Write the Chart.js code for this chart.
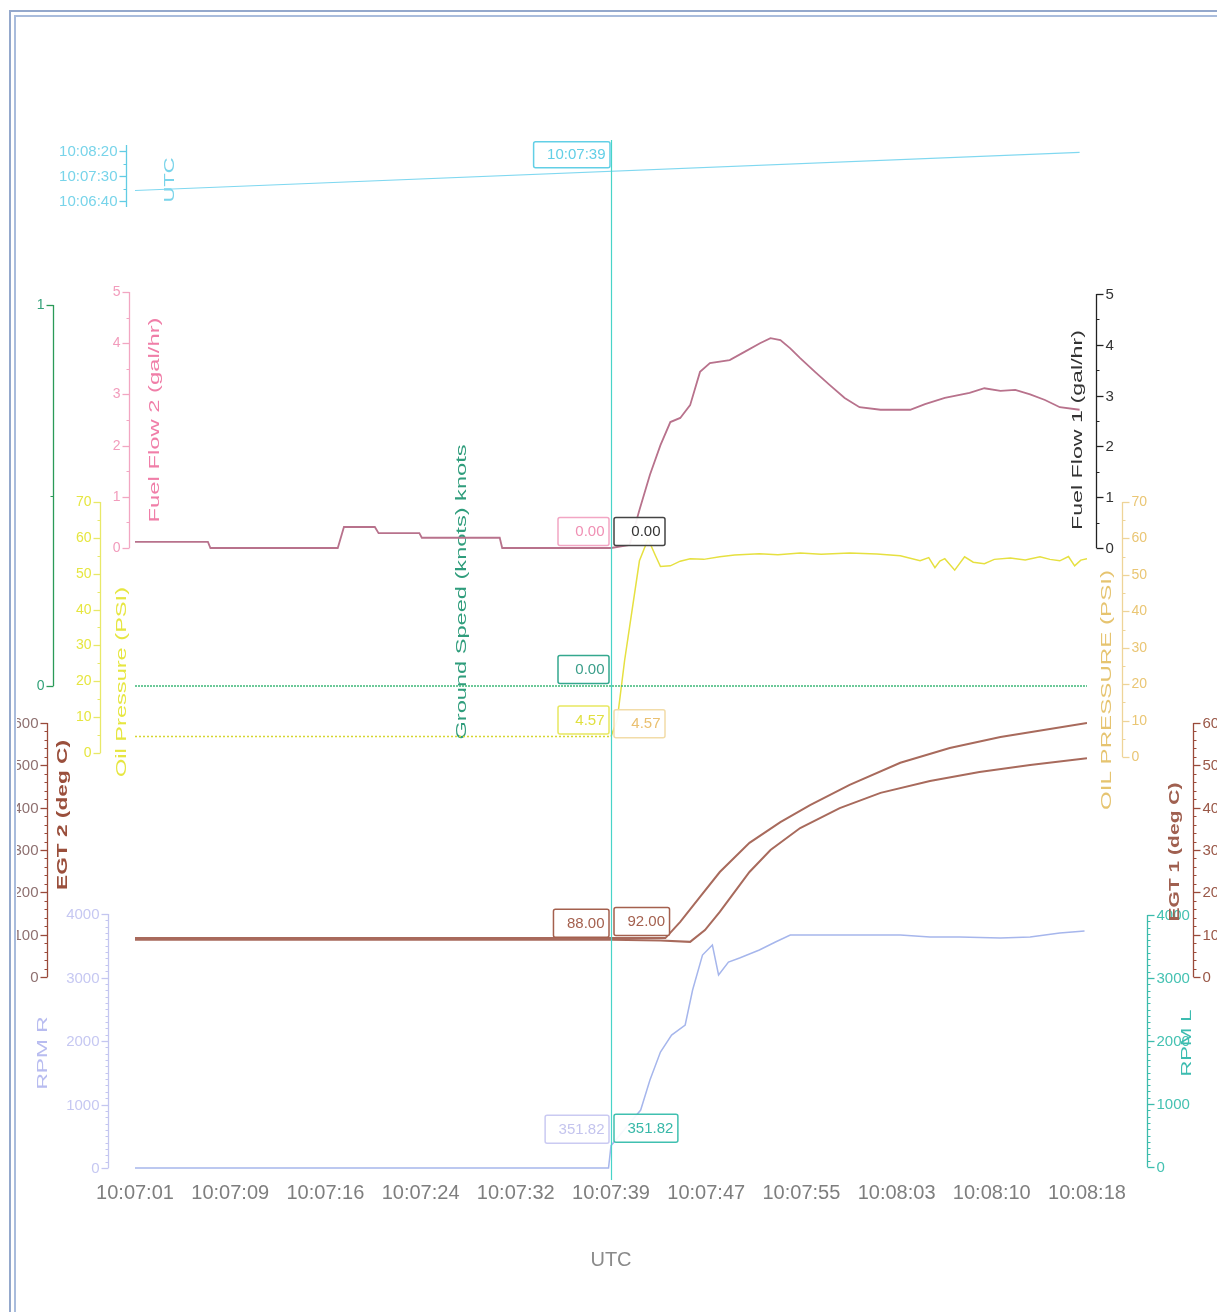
<!DOCTYPE html>
<html>
<head>
<meta charset="utf-8">
<script src="https://cdn.jsdelivr.net/npm/chart.js@4.4.1/dist/chart.umd.min.js"></script>
<style>
  html, body { margin: 0; padding: 0; background: #fff; overflow: hidden; }
  canvas { display: block; }
</style>
</head>
<body>
<canvas id="flight" width="1217" height="1312"></canvas>
<script>
// ---- time base: seconds after 10:07:01 UTC ----
const cursorTime = 38.5;
const cursorLabel = '10:07:39';
const xTickTimes = [0, 7.7, 15.4, 23.1, 30.8, 38.5, 46.2, 53.9, 61.6, 69.3, 77];
const xTickLabels = ['10:07:01', '10:07:09', '10:07:16', '10:07:24', '10:07:32', '10:07:39',
                     '10:07:47', '10:07:55', '10:08:03', '10:08:10', '10:08:18'];
const utcTickValues = [-21, 29, 79];
const utcTickLabels = ['10:06:40', '10:07:30', '10:08:20'];

// ---- recorded series ----
const utcT = [0, 76.4];
const utcV = [0, 76.4];

const fuelT = [0, 5.9, 6.1, 16.4, 16.9, 19.4, 19.7, 23.0, 23.2, 29.5, 29.7, 38.5, 40.0, 40.8,
               41.65, 42.5, 43.3, 44.1, 44.9, 45.7, 46.5, 48.1, 49.3, 50.55, 51.4, 52.2, 53.0,
               53.8, 55.0, 56.2, 57.4, 58.6, 60.3, 62.7, 63.9, 65.5, 67.5, 68.7, 70.0, 71.2,
               72.4, 73.6, 74.8, 76.4];
const fuelV = [0.12, 0.12, 0, 0, 0.41, 0.41, 0.29, 0.29, 0.2, 0.2, 0, 0, 0.06, 0.74,
               1.43, 2.01, 2.46, 2.54, 2.79, 3.44, 3.61, 3.67, 3.83, 4.0, 4.1, 4.06, 3.9,
               3.71, 3.44, 3.18, 2.93, 2.75, 2.7, 2.7, 2.81, 2.93, 3.03, 3.12, 3.07, 3.09,
               3.0, 2.89, 2.75, 2.7];

const speedT = [0, 77];
const speedV = [0, 0];

const oilT = [0, 38.5, 39.0, 39.6, 40.2, 40.8, 41.5, 42.1, 42.5, 43.3, 44.1, 44.9, 46.0, 47.3,
              48.5, 50.5, 52.0, 53.8, 55.5, 57.8, 60.0, 61.9, 63.5, 64.2, 64.7, 65.1, 65.5,
              66.3, 67.1, 67.8, 68.7, 69.5, 70.8, 72.0, 73.2, 74.0, 74.8, 75.5, 76.0, 76.5, 77];
const oilV = [4.57, 4.57, 9.2, 25.8, 39.7, 53.6, 59.7, 55.0, 52.0, 52.2, 53.5, 54.2, 54.0, 54.7,
              55.2, 55.6, 55.3, 55.8, 55.4, 55.8, 55.5, 55.0, 53.6, 54.5, 51.7, 53.5, 54.2,
              51.0, 54.7, 53.2, 52.8, 54.0, 54.4, 53.8, 54.7, 54.0, 53.6, 54.8, 52.2, 53.8, 54.2];

const egt2T = [0, 38.5, 42.5, 44.9, 46.1, 47.3, 48.5, 49.7, 51.4, 53.8, 57.0, 60.3, 64.3, 68.3, 72.4, 77];
const egt2V = [88, 88, 86, 83, 111, 154, 201, 248, 300, 352, 399, 435, 463, 484, 501, 517];

const egt1T = [0, 38.5, 42.9, 44.1, 45.7, 47.3, 49.7, 52.2, 54.6, 57.8, 61.9, 65.9, 70.0, 74.0, 77];
const egt1V = [92, 92, 92, 130, 189, 248, 317, 366, 406, 454, 506, 541, 567, 586, 600];

const rpmT = [0, 38.3, 38.5, 40.9, 41.65, 42.5, 43.4, 44.5, 45.1, 45.9, 46.7, 47.2, 48.0, 48.9,
              50.5, 51.8, 53.0, 54.6, 57.8, 61.9, 64.3, 66.7, 70.0, 72.4, 74.8, 76.8];
const rpmV = [0, 0, 351.82, 913, 1386, 1827, 2094, 2252, 2803, 3354, 3512, 3039, 3244, 3307,
              3433, 3559, 3669, 3669, 3669, 3669, 3638, 3638, 3622, 3638, 3700, 3732];

// readings at the cursor: left-hand and right-hand channels
const leftReadings = [0.00, 0.00, 4.57, 88.00, 351.82];   // FF2, ground speed, oil, EGT 2, RPM R
const rightReadings = [0.00, 4.57, 92.00, 351.82];        // FF1, OIL PRESSURE, EGT 1, RPM L

// ---- layout ----
const FONT = "'Liberation Sans', Arial, sans-serif";
const TOP = 140, BOTTOM = 1170;

// each channel lives in its own horizontal band of the plot
function band(v0, p0, v1, p1) {
  const k = (v1 - v0) / (p0 - p1);
  return { min: v0 - (BOTTOM - p0) * k, max: v1 + (p1 - TOP) * k };
}
const pts = (t, v) => t.map((x, i) => ({ x, y: v[i] }));

const axisStyles = [
  { id: 'yUtc', x: 126, side: 'left', from: -33, to: 91, majors: utcTickValues, labels: utcTickLabels,
    minors: [4, 54], color: '#62cce4', tickColor: '#78d4ea', size: 15,
    title: 'UTC', tx: 170, ty: 180, tlen: 45, tcolor: '#7ad4ea', tsize: 14 },
  { id: 'yFuel2', x: 129, side: 'left', from: 0, to: 5, step: 1, minor: 0.5,
    color: '#f2a6c2', tickColor: '#f29cbc', size: 14,
    title: 'Fuel Flow 2 (gal/hr)', tx: 155, ty: 420, tlen: 205, tcolor: '#f07ea8', tsize: 14 },
  { id: 'yGs', x: 53, side: 'left', from: 0, to: 1, step: 1, minor: 0.5,
    color: '#2a9a58', tickColor: '#34a27a', size: 14,
    title: 'Ground Speed (knots) knots', tx: 462, ty: 592, tlen: 295, tcolor: '#2f9d7c', tsize: 15 },
  { id: 'yOilL', x: 100, side: 'left', from: 0, to: 70, step: 10, minor: 5,
    color: '#e8e868', tickColor: '#e6e640', size: 14,
    title: 'Oil Pressure (PSI)', tx: 122, ty: 682, tlen: 190, tcolor: '#e6e640', tsize: 14 },
  { id: 'yEgt2', x: 47, side: 'left', from: 0, to: 600, step: 100, minor: 20,
    color: '#9a4a3a', tickColor: '#8e7070', size: 15,
    title: 'EGT 2 (deg C)', tx: 63, ty: 815, tlen: 150, tcolor: '#9a4f3c', tsize: 15, bold: true },
  { id: 'yRpmR', x: 108, side: 'left', from: 0, to: 4000, step: 1000, minor: 100,
    color: '#c4c6f0', tickColor: '#c6c8f2', size: 15,
    title: 'RPM R', tx: 43, ty: 1053, tlen: 73, tcolor: '#b8bcf0', tsize: 14 },
  { id: 'yFuel1', x: 1096, side: 'right', from: 0, to: 5, step: 1, minor: 0.5,
    color: '#222222', tickColor: '#333333', size: 15,
    title: 'Fuel Flow 1 (gal/hr)', tx: 1078, ty: 430, tlen: 200, tcolor: '#333333', tsize: 14 },
  { id: 'yOilR', x: 1122, side: 'right', from: 0, to: 70, step: 10, minor: 5,
    color: '#eed498', tickColor: '#eac674', size: 14,
    title: 'OIL PRESSURE (PSI)', tx: 1107, ty: 690, tlen: 240, tcolor: '#e6c470', tsize: 14 },
  { id: 'yRpmL', x: 1147, side: 'right', from: 0, to: 4000, step: 1000, minor: 100,
    color: '#3cbcac', tickColor: '#44c2b2', size: 15,
    title: 'RPM L', tx: 1187, ty: 1043, tlen: 67, tcolor: '#3cbcb0', tsize: 14 },
  { id: 'yEgt1', x: 1193, side: 'right', from: 0, to: 600, step: 100, minor: 20,
    color: '#9a4a3a', tickColor: '#9a5848', size: 15,
    title: 'EGT 1 (deg C)', tx: 1175, ty: 852, tlen: 139, tcolor: '#a06050', tsize: 15, bold: true },
];

const leftBoxStyles = [
  { scale: 'yFuel2', border: '#f2a6c4', text: '#f090b4' },
  { scale: 'yGs', border: '#34a88e', text: '#3a9e8a' },
  { scale: 'yOilL', border: '#e8e860', text: '#e0e040' },
  { scale: 'yEgt2', border: '#a4604e', text: '#a4604e' },
  { scale: 'yRpmR', border: '#cacaf2', text: '#c4c4ee' },
];
const rightBoxStyles = [
  { scale: 'yFuel1', border: '#444444', text: '#333333' },
  { scale: 'yOilR', border: '#f2dca8', text: '#eac070' },
  { scale: 'yEgt1', border: '#a4604e', text: '#a4604e' },
  { scale: 'yRpmL', border: '#40c0b0', text: '#38b8a8' },
];

function steps(from, to, step) {
  const out = [];
  for (let i = 0; from + i * step <= to + 1e-9; i++) out.push(from + i * step);
  return out;
}

function drawText(ctx, text, x, y, o) {
  ctx.save();
  ctx.translate(x, y);
  ctx.font = o.font;
  if (o.rotate) {
    const w = ctx.measureText(text).width;
    ctx.scale(1, o.len ? o.len / w : 1);
    ctx.rotate(-Math.PI / 2);
  }
  ctx.fillStyle = o.color;
  ctx.textAlign = o.align || 'center';
  ctx.textBaseline = 'middle';
  ctx.fillText(text, 0, 0);
  ctx.restore();
}

// channel axes, each drawn only over its own band
const bandAxes = {
  id: 'bandAxes',
  beforeDatasetsDraw(chart) {
    const ctx = chart.ctx;
    axisStyles.forEach(a => {
      const s = chart.scales[a.id];
      const dir = a.side === 'left' ? -1 : 1;
      const x = Math.round(a.x) + 0.5;
      ctx.save();
      ctx.strokeStyle = a.color;
      ctx.lineWidth = 1.3;
      ctx.beginPath();
      ctx.moveTo(x, s.getPixelForValue(a.from));
      ctx.lineTo(x, s.getPixelForValue(a.to));
      ctx.stroke();

      const majors = a.majors || steps(a.from, a.to, a.step);
      const minors = a.minors || steps(a.from, a.to, a.minor)
        .filter(v => Math.abs(v / a.step - Math.round(v / a.step)) > 1e-6);
      ctx.lineWidth = 1;
      minors.forEach(v => {
        const y = Math.round(s.getPixelForValue(v)) + 0.5;
        ctx.beginPath(); ctx.moveTo(x, y); ctx.lineTo(x + dir * 3, y); ctx.stroke();
      });
      ctx.lineWidth = 1.3;
      majors.forEach((v, i) => {
        const y = Math.round(s.getPixelForValue(v)) + 0.5;
        ctx.beginPath(); ctx.moveTo(x, y); ctx.lineTo(x + dir * 7, y); ctx.stroke();
        const label = a.labels ? a.labels[i] : String(Math.round(v));
        drawText(ctx, label, x + dir * 9, y, {
          font: `${a.size}px ${FONT}`, color: a.tickColor, align: a.side === 'left' ? 'right' : 'left'
        });
      });
      drawText(ctx, a.title, a.tx, a.ty, {
        font: `${a.bold ? 'bold ' : ''}${a.tsize}px ${FONT}`, color: a.tcolor, rotate: true, len: a.tlen
      });
      ctx.restore();
    });
  }
};

function readoutBox(ctx, text, edgeX, bottomY, side, st, h) {
  ctx.save();
  ctx.font = `15px ${FONT}`;
  const w = Math.max(51, ctx.measureText(text).width + 18);
  const left = side === 'left' ? edgeX - w : edgeX;
  const top = bottomY - h;
  ctx.fillStyle = 'rgba(255,255,255,0.92)';
  ctx.strokeStyle = st.border;
  ctx.lineWidth = 1.5;
  ctx.beginPath();
  if (ctx.roundRect) ctx.roundRect(left + 0.5, top + 0.5, w, h, 2); else ctx.rect(left + 0.5, top + 0.5, w, h);
  ctx.fill();
  ctx.stroke();
  ctx.fillStyle = st.text;
  ctx.textAlign = 'right';
  ctx.textBaseline = 'middle';
  ctx.fillText(text, left + w - 4, top + h / 2 + 1);
  ctx.restore();
}

// cursor line with the channel readings beside it
const cursorReadout = {
  id: 'cursorReadout',
  afterDatasetsDraw(chart) {
    const ctx = chart.ctx;
    const cx = Math.round(chart.scales.x.getPixelForValue(cursorTime)) + 0.5;
    ctx.save();
    ctx.strokeStyle = '#48d4c8';
    ctx.lineWidth = 1.2;
    ctx.beginPath();
    ctx.moveTo(cx, TOP);
    ctx.lineTo(cx, BOTTOM + 10);
    ctx.stroke();
    ctx.restore();

    readoutBox(ctx, cursorLabel, cx - 2, chart.scales.yUtc.getPixelForValue(cursorTime) - 4,
               'left', { border: '#62cfe6', text: '#62cfe6' }, 26);
    leftReadings.forEach((v, i) => {
      const st = leftBoxStyles[i];
      readoutBox(ctx, v.toFixed(2), cx - 3, chart.scales[st.scale].getPixelForValue(v) - 3, 'left', st, 28);
    });
    rightReadings.forEach((v, i) => {
      const st = rightBoxStyles[i];
      readoutBox(ctx, v.toFixed(2), cx + 2, chart.scales[st.scale].getPixelForValue(v) - 3, 'right', st, 28);
    });
  },
  afterDraw(chart) {
    // page frame
    const ctx = chart.ctx;
    ctx.save();
    ctx.fillStyle = '#ffffff';
    ctx.fillRect(0, 0, 17, chart.height);
    ctx.fillRect(0, 0, chart.width, 16);
    ctx.lineWidth = 2;
    ctx.strokeStyle = '#94a8cc';
    ctx.beginPath(); ctx.moveTo(10, 1312); ctx.lineTo(10, 11); ctx.lineTo(1217, 11); ctx.stroke();
    ctx.strokeStyle = '#a9bcdc';
    ctx.beginPath(); ctx.moveTo(15, 1312); ctx.lineTo(15, 16); ctx.lineTo(1217, 16); ctx.stroke();
    ctx.restore();
  }
};

const hidden = (range) => Object.assign({ type: 'linear', display: false }, range);

new Chart(document.getElementById('flight'), {
  type: 'line',
  data: {
    datasets: [
      { label: 'UTC', data: pts(utcT, utcV), yAxisID: 'yUtc', borderColor: '#80d8f0', borderWidth: 1.2 },
      { label: 'Fuel Flow 2 (gal/hr)', data: pts(fuelT, fuelV), yAxisID: 'yFuel2', borderColor: '#b8728c', borderWidth: 1.8 },
      { label: 'Ground Speed (knots)', data: pts(speedT, speedV), yAxisID: 'yGs', borderColor: '#3cb878',
        borderWidth: 1.5, borderDash: [2, 1] },
      { label: 'Oil Pressure (PSI)', data: pts(oilT, oilV), yAxisID: 'yOilL', borderColor: '#e6e040', borderWidth: 1.5,
        segment: { borderDash: c => (c.p1.parsed.x <= cursorTime ? [2, 2] : undefined),
                   borderColor: c => (c.p1.parsed.x <= cursorTime ? '#d6d630' : undefined) } },
      { label: 'EGT 2 (deg C)', data: pts(egt2T, egt2V), yAxisID: 'yEgt2', borderColor: '#a86a5c', borderWidth: 2 },
      { label: 'EGT 1 (deg C)', data: pts(egt1T, egt1V), yAxisID: 'yEgt1', borderColor: '#a86a5c', borderWidth: 2 },
      { label: 'RPM R', data: pts(rpmT, rpmV), yAxisID: 'yRpmR', borderColor: '#a6b6ec', borderWidth: 1.5 },
    ]
  },
  options: {
    responsive: false,
    animation: false,
    devicePixelRatio: 1,
    events: [],
    layout: { padding: { left: 135, right: 130, top: TOP, bottom: 0 } },
    elements: { point: { radius: 0 }, line: { tension: 0 } },
    plugins: { legend: { display: false }, tooltip: { enabled: false } },
    scales: {
      x: {
        type: 'linear', min: 0, max: 77,
        grid: { display: false, drawTicks: false },
        border: { display: false },
        afterBuildTicks: s => { s.ticks = xTickTimes.map(v => ({ value: v })); },
        afterFit: s => { s.height = 1312 - BOTTOM; },
        ticks: {
          autoSkip: false, maxRotation: 0, padding: 11, color: '#7e7e7e',
          font: { family: FONT, size: 20 },
          callback: (v, i) => xTickLabels[i]
        },
        title: { display: true, text: 'UTC', color: '#8a8a8a', font: { family: FONT, size: 20 },
                 padding: { top: 0, bottom: 40 } }
      },
      yUtc: hidden(band(-21, 201, 79, 151)),
      yFuel2: hidden(band(0, 548, 5, 292)),
      yFuel1: hidden(band(0, 548, 5, 294)),
      yGs: hidden(band(0, 686, 1, 305)),
      yOilL: hidden(band(0, 753, 70, 502)),
      yOilR: hidden(band(0, 757, 70, 502)),
      yEgt2: hidden(band(0, 977, 600, 723)),
      yEgt1: hidden(band(0, 977, 600, 723)),
      yRpmR: hidden(band(0, 1168, 4000, 914)),
      yRpmL: hidden(band(0, 1167, 4000, 915)),
    }
  },
  plugins: [bandAxes, cursorReadout]
});
</script>
</body>
</html>
